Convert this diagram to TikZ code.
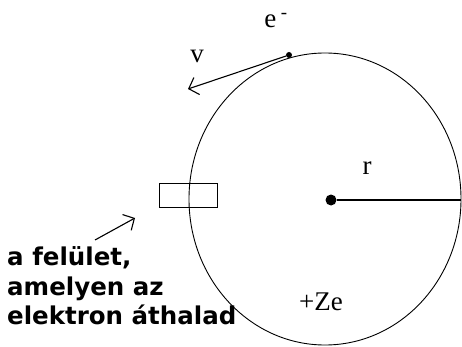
\documentclass[tikz,border=0pt]{standalone}
\usepackage{fontspec}
\setmainfont{Liberation Serif}
\newfontfamily\labelfont{DejaVu Sans}
\usetikzlibrary{arrows.meta, positioning}

\begin{document}
\begin{tikzpicture}[x=1pt, y=-1pt,
  orbit/.style={line width=0.9pt},
  barb/.style={-{Straight Barb[length=8.5pt, width=18pt]}, line width=1.1pt},
  sym/.style={font=\fontsize{27}{27}\selectfont, inner sep=0pt}]
  \useasboundingbox (0,0) rectangle (462,347);

  % pálya
  \draw[orbit] (325,199) ellipse [x radius=136, y radius=146];

  % mag és sugár
  \node[circle, fill, inner sep=0pt, minimum size=11pt] (nucleus) at (331,200) {};
  \coordinate (rim) at (461,200);
  \draw[line width=1.4pt] (nucleus) -- (rim);
  \node[sym] (radius) at (367,168) {r};
  \node[sym] (charge) at (321,302) {+Ze};

  % elektron és sebesség
  \node[circle, fill, inner sep=0pt, minimum size=6pt] (electron) at (289,55) {};
  \node[sym] (elabel) at (276,21) {e\,\textsuperscript{-}};
  \coordinate (vtip) at (188,89);
  \draw[barb] (electron) -- (vtip);
  \node[sym] (vlabel) at (197,56) {v};

  % felület
  \node[draw, line width=1pt, minimum width=58pt, minimum height=23pt] (surface) at (188,195.5) {};
  \node[anchor=north west, align=left, inner sep=0pt,
        font=\labelfont\bfseries\fontsize{24.5}{29.5}\selectfont] (caption) at (7,246.5)
        {a felület,\\amelyen az\\elektron áthalad};
  \coordinate (ptrtail) at (95,240);
  \coordinate (ptrtip) at (135,218);
  \draw[barb] (ptrtail) -- (ptrtip);
\end{tikzpicture}
\end{document}
